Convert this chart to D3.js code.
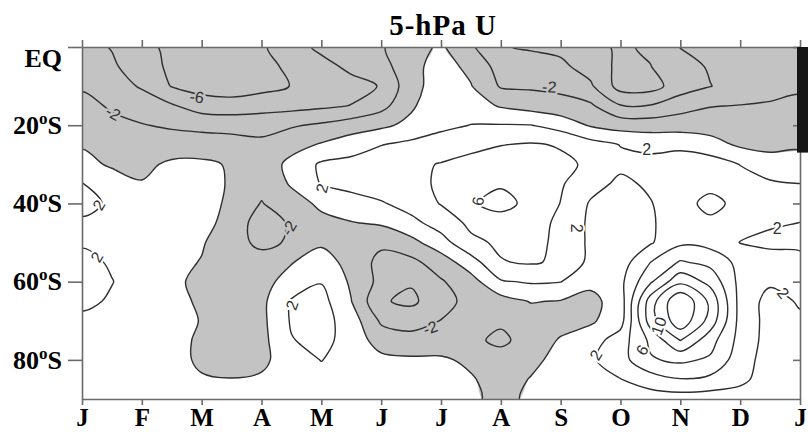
<!DOCTYPE html>
<html><head><meta charset="utf-8">
<script src="https://cdn.jsdelivr.net/npm/d3@7"></script>
<style>body{margin:0;background:#fff}</style>
</head><body>
<svg id="c" width="808" height="432"></svg>
<script>
// ---- data ----
const months = ["J","F","M","A","M","J","J","A","S","O","N","D","J"];
const monthTicks = [0,1,2,3,4,5,6,7,8,9,10,11,12];
const latTicks = [0,20,40,60,80];
const latLabels = ["EQ","20","40","60","80"];
const gridMonths = [0,0.5,1,1.5,2,2.5,3,3.5,4,4.5,5,5.5,6,6.5,7,7.5,8,8.5,9,9.5,10,10.5,11,11.5,12];
const gridLats = [0,5,10,15,20,25,30,35,40,45,50,55,60,65,70,75,80,85,90];
const levels = [-6,-4,-2,0,2,4,6,8,10,12];
// zonal wind U (m/s), rows = latitude (EQ..90S), columns = time (Jan..Jan)
const u = [
[-3.4,-4.1,-5.4,-6.5,-7.0,-7.0,-6.3,-4.8,-3.6,-2.9,-2.2,-0.8,0.3,-1.7,-3.9,-4.2,-4.45,-5.4,-6.3,-5.7,-3.95,-3.8,-3.6,-3.4,-3.3],
[-2.9,-3.7,-5.05,-6.4,-7.0,-7.0,-6.6,-5.6,-4.6,-3.6,-2.8,-0.6,0.8,-0.5,-2.8,-3.2,-3.6,-4.8,-6.5,-6.05,-4.8,-3.8,-3.3,-3.0,-2.8],
[-2.2,-3.15,-4.2,-6.1,-6.8,-6.9,-6.6,-5.95,-5.3,-4.6,-3.9,-0.7,1.0,0.1,-2.2,-2.3,-2.5,-3.7,-6.8,-6.8,-5.0,-4.05,-3.2,-2.7,-2.3],
[-1.5,-2.2,-3.0,-3.8,-5.0,-5.3,-4.9,-4.7,-4.4,-3.95,-2.7,-0.3,1.4,0.9,-0.2,-0.8,-1.3,-1.7,-3.9,-3.9,-2.8,-2.1,-1.95,-1.8,-1.6],
[-0.9,-1.6,-1.9,-2.3,-2.5,-2.5,-2.6,-2.2,-1.7,-1.0,-0.4,0.5,1.5,2.05,2.1,2.05,1.2,-0.2,-0.8,-0.9,-0.9,-0.9,-1.16,-1.1,-0.95],
[-0.2,-0.8,-1.2,-0.9,-1.1,-1.4,-1.6,-0.7,0.2,1.1,1.95,2.5,3.0,3.5,3.95,4.2,3.85,2.8,1.95,1.5,1.6,0.8,-0.3,-0.5,-0.3],
[0.7,-0.3,-0.4,0.3,0.4,-0.2,-1.2,0.55,2.3,2.6,3.1,3.6,4.1,4.6,5.0,4.8,4.4,3.7,2.4,2.6,2.9,3.0,1.95,0.8,0.8],
[2.05,1.2,0.1,0.6,0.7,-0.2,-1.4,0.2,2.1,2.7,3.2,3.6,4.2,5.0,5.8,5.4,4.2,2.7,1.6,2.3,2.8,3.3,2.8,2.3,2.02],
[2.4,1.8,1.0,0.8,0.8,-0.4,-2.1,-0.8,0.36,1.1,1.8,2.86,4.1,5.8,6.6,5.5,3.95,1.8,1.4,1.9,3.1,4.7,3.3,2.6,2.5],
[1.8,1.2,0.9,0.7,0.9,-1.0,-2.8,-1.8,-0.5,-0.1,0.24,1.4,2.9,4.4,5.2,4.6,3.7,1.6,1.2,1.8,2.9,3.5,2.7,2.2,1.98],
[1.8,1.4,1.0,0.6,0.2,-1.35,-2.4,-1.8,-0.3,-0.8,-1.6,-0.6,1.15,3.6,4.3,4.4,3.7,1.6,1.2,1.8,3.6,3.3,1.95,1.6,1.7],
[2.5,1.8,1.0,0.6,-0.1,-1.0,-1.3,-0.1,0.9,-0.7,-2.6,-2.5,-1.0,1.1,3.9,4.2,3.7,1.5,1.0,3.98,6.2,5.4,3.4,2.8,2.4],
[2.6,2.05,1.2,0.6,-0.7,-1.2,-0.6,0.7,1.9,-0.3,-2.6,-3.8,-2.2,-0.8,1.8,2.2,2.05,0.5,1.5,5.7,9.5,7.4,3.4,2.3,2.5],
[2.4,1.8,1.0,0.8,-0.4,-1.4,-0.5,2.2,2.7,0.05,-3.8,-4.4,-2.8,-1.3,-0.8,0.1,-0.1,-0.6,1.0,9.0,14.0,9.5,3.3,1.3,2.2],
[1.6,1.3,0.9,0.4,-0.05,-1.2,-0.5,2.2,2.8,1.0,-2.3,-2.8,-1.95,-1.3,-1.7,-1.0,-0.8,-0.3,1.2,9.0,13.5,9.2,3.3,1.3,1.7],
[1.3,1.1,0.8,0.6,-0.3,-1.1,-0.6,1.9,2.6,1.2,-0.9,-1.3,-1.2,-1.6,-2.4,-1.2,0.2,1.1,3.0,6.4,10.05,6.8,3.3,1.2,1.4],
[1.0,0.9,0.7,0.6,-0.3,-1.0,-0.5,1.2,2.05,1.2,0.5,0.3,0.3,-0.4,-1.2,-0.5,0.65,1.7,3.2,5.8,6.4,5.7,2.9,1.1,1.2],
[0.9,0.8,0.5,0.3,0.15,0.08,0.3,0.8,1.4,1.0,0.8,0.7,0.5,0.2,-0.9,0.1,0.9,1.4,1.95,3.0,3.9,3.5,2.5,1.0,1.0],
[0.8,0.7,0.5,0.4,0.4,0.4,0.5,0.7,1.0,0.8,0.7,0.6,0.5,0.3,-0.5,0.3,0.8,1.0,1.0,1.0,1.0,0.9,1.0,0.9,0.9]
];
// contour labels: value, month, latitude, angle
const labelValue = [-2,-6,-2,2,6,2,2,2,2,-2,2,-2,2,2,2,6,10];
const labelMonth = [0.52,1.92,7.81,4.01,6.62,8.27,9.44,0.28,0.25,3.46,3.51,5.82,11.72,11.62,8.59,9.36,9.64];
const labelLat   = [16.9,12.8,10.2,36.1,39.4,46.3,26.3,40.4,53.7,46.3,66.0,71.8,62.9,46.5,78.8,77.5,71.3];
const labelAngle = [30,8,4,-75,-80,90,0,-60,-60,-60,-70,-20,50,0,-60,-60,-70];

// ---- drawing ----
const svg = d3.select("#c");
const serif = "'Liberation Serif','Times New Roman',Times,serif";
const sans = "'Liberation Sans',Arial,Helvetica,sans-serif";
const GRAY = "#c3c3c3";
const x = d3.scaleLinear().domain([0,12]).range([82,800]);
const y = d3.scaleLinear().domain([0,90]).range([47,399]);
const nx = gridMonths.length, ny = gridLats.length;
const dm = gridMonths[1]-gridMonths[0], dl = gridLats[1]-gridLats[0];
const values = u.flat();

// grid index space -> pixel space, then smooth closed rings
function toPix(p){ return [x(gridMonths[0]+(p[0]-0.5)*dm), y(gridLats[0]+(p[1]-0.5)*dl)]; }
const ringLine = d3.line().curve(d3.curveCatmullRomClosed.alpha(0.5));
function smoothPath(mp){
  return mp.coordinates.map(poly=>poly.map(ring=>ringLine(ring.slice(0,-1).map(toPix))).join("")).join("");
}

svg.append("rect").attr("width",808).attr("height",432).attr("fill","#fff");
svg.append("defs").append("clipPath").attr("id","plot")
  .append("rect").attr("x",x(0)).attr("y",y(0)).attr("width",x(12)-x(0)).attr("height",y(90)-y(0));
const g = svg.append("g").attr("clip-path","url(#plot)");

// shading of easterlies (U < 0)
const neg = d3.contours().size([nx,ny]).thresholds([0])(values.map(v=>-v));
g.selectAll("path.fill").data(neg).join("path").attr("class","fill")
  .attr("d",smoothPath).attr("fill",GRAY).attr("fill-rule","evenodd").attr("stroke","none");

// contour lines
const lines = d3.contours().size([nx,ny]).thresholds(levels)(values);
g.selectAll("path.line").data(lines).join("path").attr("class","line")
  .attr("d",smoothPath).attr("fill","none").attr("stroke","#2e2e2e")
  .attr("stroke-width",1.4).attr("stroke-linejoin","round");

// contour labels
const labs = labelValue.map((v,i)=>({v, m:labelMonth[i], lat:labelLat[i], a:labelAngle[i]}));
g.selectAll("text.cl").data(labs).join("text").attr("class","cl")
  .attr("transform",d=>`translate(${x(d.m)},${y(d.lat)}) rotate(${d.a})`)
  .attr("text-anchor","middle").attr("dy","0.35em")
  .attr("font-family",sans).attr("font-size",16).attr("fill","#303030")
  .attr("stroke",d=>d.v<0?GRAY:"#fff").attr("stroke-width",4).attr("paint-order","stroke")
  .text(d=>String(d.v));

// axes
const axColor = "#6a6a6a";
function styleAxis(sel){
  sel.select(".domain").attr("stroke",axColor).attr("stroke-width",1.6);
  sel.selectAll(".tick line").attr("stroke",axColor).attr("stroke-width",1.6);
  sel.selectAll("text").attr("font-family",serif).attr("font-weight","bold").attr("fill","#000");
}
const axBottom = svg.append("g").attr("transform",`translate(0,${y(90)})`)
  .call(d3.axisBottom(x).tickValues(monthTicks).tickFormat(i=>months[i]).tickSize(6).tickSizeOuter(0).tickPadding(3.5));
styleAxis(axBottom);
axBottom.selectAll("text").attr("font-size",25);
const axTop = svg.append("g").attr("transform",`translate(0,${y(0)})`)
  .call(d3.axisTop(x).tickValues(monthTicks).tickFormat("").tickSize(7).tickSizeOuter(0));
styleAxis(axTop);
const axLeft = svg.append("g").attr("transform",`translate(${x(0)},0)`)
  .call(d3.axisLeft(y).tickValues(latTicks).tickFormat((d,i)=>latLabels[i]).tickSize(14).tickSizeOuter(0).tickPadding(6));
styleAxis(axLeft);
axLeft.selectAll("text").attr("font-size",26);
axLeft.selectAll(".tick text").each(function(d,i){
  const t = d3.select(this);
  if (i===0){ t.attr("dy","19"); return; }
  const base = latLabels[i];
  t.text(null);
  t.append("tspan").text(base);
  t.append("tspan").attr("font-size",17).attr("dy",-10).text("o");
  t.append("tspan").attr("dy",10).text("S");
});
const axRight = svg.append("g").attr("transform",`translate(${x(12)},0)`)
  .call(d3.axisLeft(y).tickValues(latTicks).tickFormat("").tickSize(7).tickSizeOuter(0));
styleAxis(axRight);

// dark strip on the right edge of the scan
svg.append("rect").attr("x",x(12)-3).attr("y",y(0)).attr("width",12).attr("height",y(27)-y(0)).attr("fill","#161616");

// title
svg.append("text").attr("x",443).attr("y",35).attr("text-anchor","middle")
  .attr("font-family",serif).attr("font-size",29).attr("font-weight","bold")
  .attr("letter-spacing",1).text("5-hPa U");
</script>
</body></html>
